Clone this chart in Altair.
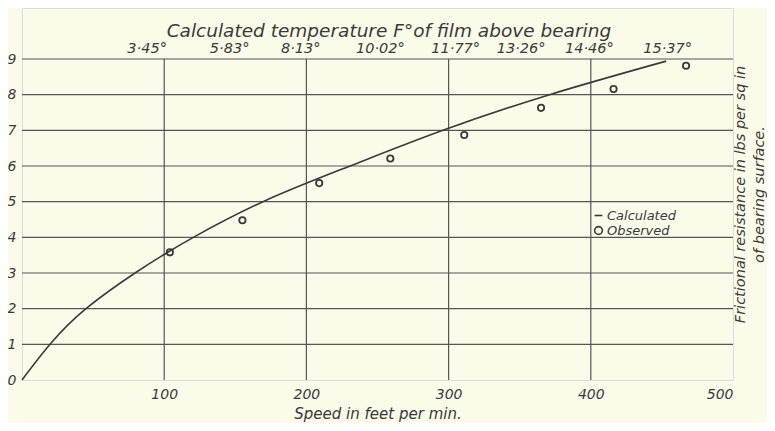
import altair as alt
import pandas as pd

# Observed points (speed ft/min, frictional resistance lbs/sq in)
obs_speed = [104, 155, 209, 259, 311, 365, 416, 467]
obs_fric = [3.58, 4.48, 5.52, 6.21, 6.87, 7.63, 8.16, 8.81]

# Calculated curve
calc_speed = [0, 19.7, 45, 79.5, 100, 120.5, 169.5, 230.7, 296, 371, 453]
calc_fric = [0, 1.0, 2.0, 3.0, 3.52, 4.0, 5.0, 6.0, 7.0, 8.0, 8.94]

# Top temperature labels
temp_labels = ["3·45°", "5·83°", "8·13°", "10·02°", "11·77°", "13·26°", "14·46°", "15·37°"]
temp_pos = [88, 146, 196, 252, 305, 351, 399, 454]
temp_row = 9.29
top_title = "Calculated temperature F°of film above bearing"
top_title_pos = 258
top_title_row = 9.78

y_ticks = [0, 1, 2, 3, 4, 5, 6, 7, 8, 9]
x_ticks = [100, 200, 300, 400, 500]
h_grid = [1, 2, 3, 4, 5, 6, 7, 8, 9]
v_grid = [100, 200, 300, 400]

INK = "#3a3a3a"
FONT = "DejaVu Sans"

obs = pd.DataFrame({"speed": obs_speed, "fric": obs_fric, "series": ["Observed"] * len(obs_speed)})
calc = pd.DataFrame({"speed": calc_speed, "fric": calc_fric})
hg = pd.DataFrame({"y": h_grid, "x0": [0] * len(h_grid), "x1": [500] * len(h_grid)})
vg = pd.DataFrame({"x": v_grid, "y0": [0] * len(v_grid), "y1": [9] * len(v_grid)})
tl = pd.DataFrame({"x": temp_pos, "y": [temp_row] * len(temp_pos), "t": temp_labels})
tt = pd.DataFrame({"x": [top_title_pos], "y": [top_title_row], "t": [top_title]})

xs = alt.Scale(domain=[0, 500], nice=False, zero=True)
ys = alt.Scale(domain=[0, 10.43], nice=False, zero=True)

x_axis = alt.Axis(values=x_ticks, grid=False, ticks=False, domain=False,
                  labelFont=FONT, labelFontStyle="italic", labelFontSize=14,
                  labelColor=INK, labelPadding=7,
                  title="Speed in feet per min.", titleFont=FONT,
                  titleFontStyle="italic", titleFontWeight="normal",
                  titleFontSize=15, titleColor=INK, titlePadding=5)

hrules = alt.Chart(hg).mark_rule(color="#555", strokeWidth=1.2).encode(
    x=alt.X("x0:Q", scale=xs, axis=x_axis),
    x2="x1:Q",
    y=alt.Y("y:Q", scale=ys, axis=alt.Axis(values=y_ticks, grid=False, ticks=False, domain=False,
                                           labelFont=FONT, labelFontStyle="italic", labelFontSize=14,
                                           labelColor=INK, labelPadding=6, title=None)),
)

vrules = alt.Chart(vg).mark_rule(color="#555", strokeWidth=1.2).encode(
    x=alt.X("x:Q", scale=xs, axis=x_axis), y=alt.Y("y0:Q", scale=ys, axis=None), y2="y1:Q"
)

line = alt.Chart(calc).mark_line(color=INK, strokeWidth=1.6, interpolate="natural").encode(
    x=alt.X("speed:Q", scale=xs, axis=x_axis), y=alt.Y("fric:Q", scale=ys, axis=None)
)

points = alt.Chart(obs).mark_point(filled=False, color=INK, size=40, strokeWidth=1.8, opacity=1).encode(
    x=alt.X("speed:Q", scale=xs, axis=x_axis),
    y=alt.Y("fric:Q", scale=ys, axis=alt.Axis(orient="right", labels=False, ticks=False, domain=False,
                                              grid=False,
                                              title=["Frictional resistance in lbs per sq in",
                                                     "of bearing surface."],
                                              titleAngle=270, titleFont=FONT, titleFontStyle="italic",
                                              titleFontWeight="normal", titleFontSize=14.5,
                                              titleColor=INK, titlePadding=-5, titleLineHeight=19)),
    shape=alt.Shape("series:N",
                    scale=alt.Scale(domain=["Calculated", "Observed"], range=["stroke", "circle"]),
                    legend=alt.Legend(orient="none", legendX=570, legendY=201, title=None,
                                      labelFont=FONT, labelFontStyle="italic", labelFontSize=13,
                                      labelColor=INK, symbolStrokeColor=INK, symbolStrokeWidth=1.6,
                                      symbolSize=60, labelOffset=2, rowPadding=0)),
)

temps = alt.Chart(tl).mark_text(font=FONT, fontStyle="italic", fontSize=14.5, color=INK).encode(
    x=alt.X("x:Q", scale=xs, axis=x_axis), y=alt.Y("y:Q", scale=ys, axis=None), text="t:N"
)

title = alt.Chart(tt).mark_text(font=FONT, fontStyle="italic", fontSize=18.5, color=INK).encode(
    x=alt.X("x:Q", scale=xs, axis=x_axis), y=alt.Y("y:Q", scale=ys, axis=None), text="t:N"
)

chart = (
    alt.layer(hrules, vrules, line, points, temps, title)
    .resolve_axis(y="independent")
    .properties(width=711, height=372, autosize=alt.AutoSizeParams(type="none"),
                padding={"left": 14, "top": 0, "right": 34, "bottom": 43})
    .configure_view(stroke="#333", strokeWidth=1.5)
    .configure(background="#fbfbea")
)

chart.save("out.html", embed_options={"renderer": "svg", "actions": False})
